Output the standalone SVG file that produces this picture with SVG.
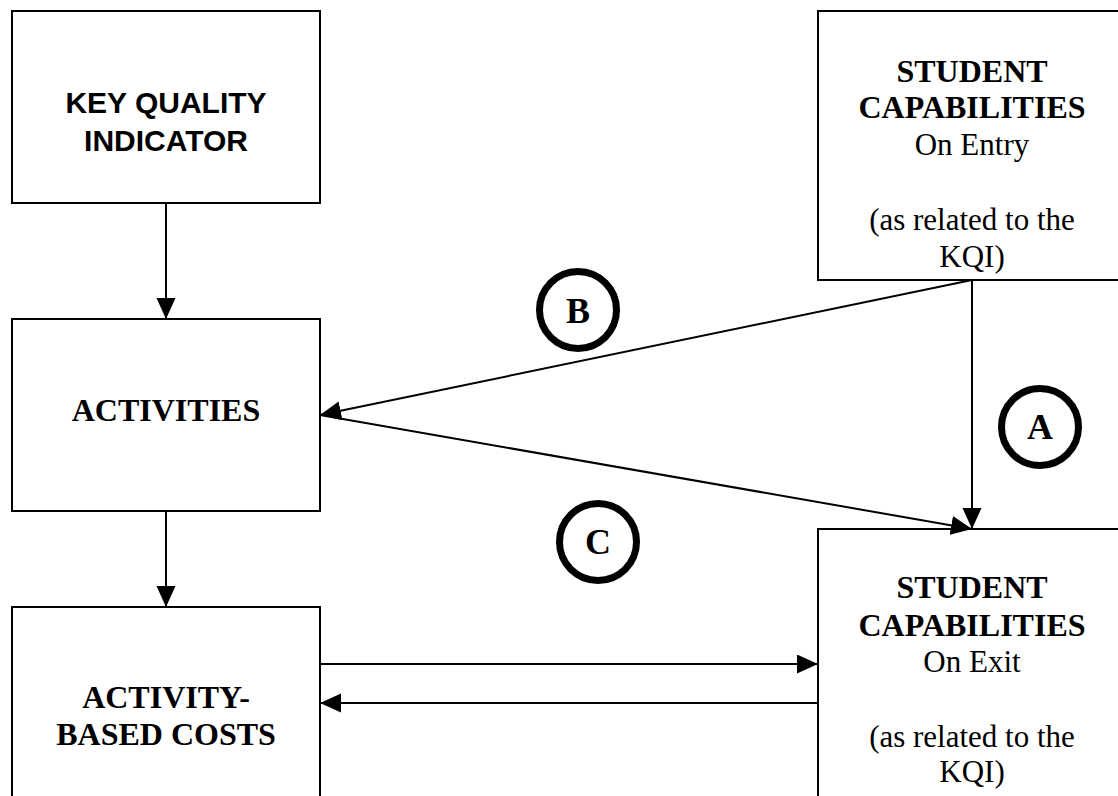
<svg xmlns="http://www.w3.org/2000/svg" width="1118" height="796" viewBox="0 0 1118 796">
<style>
.box{fill:#fff;stroke:#000;stroke-width:2}
.ln{stroke:#000;stroke-width:2;fill:none}
.arr{marker-end:url(#ah)}
.tb{font-family:"Liberation Serif","Times New Roman",serif;font-weight:bold;font-size:32px;text-anchor:middle;fill:#000}
.tr{font-family:"Liberation Serif","Times New Roman",serif;font-size:31px;text-anchor:middle;fill:#000}
.ta{font-family:"Liberation Sans",Arial,sans-serif;font-weight:bold;font-size:30px;text-anchor:middle;fill:#000}
.circ{fill:none;stroke:#000;stroke-width:7}
.lbl{font-family:"Liberation Serif","Times New Roman",serif;font-weight:bold;font-size:36px;text-anchor:middle;fill:#000}
</style>
<defs>
<marker id="ah" markerUnits="userSpaceOnUse" markerWidth="22" markerHeight="20" refX="21" refY="9.5" orient="auto">
<path d="M0,0 L21,9.5 L0,19 z" fill="#000"/>
</marker>
</defs>
<rect width="1118" height="796" fill="#fff"/>
<g id="kqi">
<rect class="box" x="12" y="11" width="308" height="192"/>
<text class="ta" x="166" y="113">KEY QUALITY</text>
<text class="ta" x="166" y="151">INDICATOR</text>
</g>
<g id="entry">
<rect class="box" x="818" y="11" width="308" height="269"/>
<text class="tb" x="972" y="82">STUDENT</text>
<text class="tb" x="972" y="118">CAPABILITIES</text>
<text class="tr" x="972" y="155">On Entry</text>
<text class="tr" x="972" y="230">(as related to the</text>
<text class="tr" x="972" y="267">KQI)</text>
</g>
<g id="activities">
<rect class="box" x="12" y="319" width="308" height="192"/>
<text class="tb" x="166" y="421">ACTIVITIES</text>
</g>
<g id="abc">
<rect class="box" x="12" y="607" width="308" height="220"/>
<text class="tb" x="166" y="708">ACTIVITY-</text>
<text class="tb" x="166" y="745">BASED COSTS</text>
</g>
<g id="exit">
<rect class="box" x="818" y="529" width="308" height="300"/>
<text class="tb" x="972" y="598">STUDENT</text>
<text class="tb" x="972" y="636">CAPABILITIES</text>
<text class="tr" x="972" y="672">On Exit</text>
<text class="tr" x="972" y="747">(as related to the</text>
<text class="tr" x="972" y="782">KQI)</text>
</g>
<g id="connectors">
<line class="ln arr" x1="166" y1="203" x2="166" y2="319"/>
<line class="ln arr" x1="166" y1="511" x2="166" y2="607"/>
<line class="ln arr" x1="972" y1="280" x2="320" y2="415"/>
<line class="ln arr" x1="320" y1="415" x2="972" y2="529"/>
<line class="ln arr" x1="972" y1="280" x2="972" y2="529"/>
<line class="ln arr" x1="320" y1="664" x2="818" y2="664"/>
<line class="ln arr" x1="818" y1="703" x2="320" y2="703"/>
</g>
<g id="label-b">
<circle class="circ" cx="578" cy="310" r="38.5"/>
<text class="lbl" x="578" y="323">B</text>
</g>
<g id="label-a">
<circle class="circ" cx="1040" cy="427" r="38.5"/>
<text class="lbl" x="1040" y="439">A</text>
</g>
<g id="label-c">
<circle class="circ" cx="598" cy="542" r="38.5"/>
<text class="lbl" x="598" y="554">C</text>
</g>
</svg>
